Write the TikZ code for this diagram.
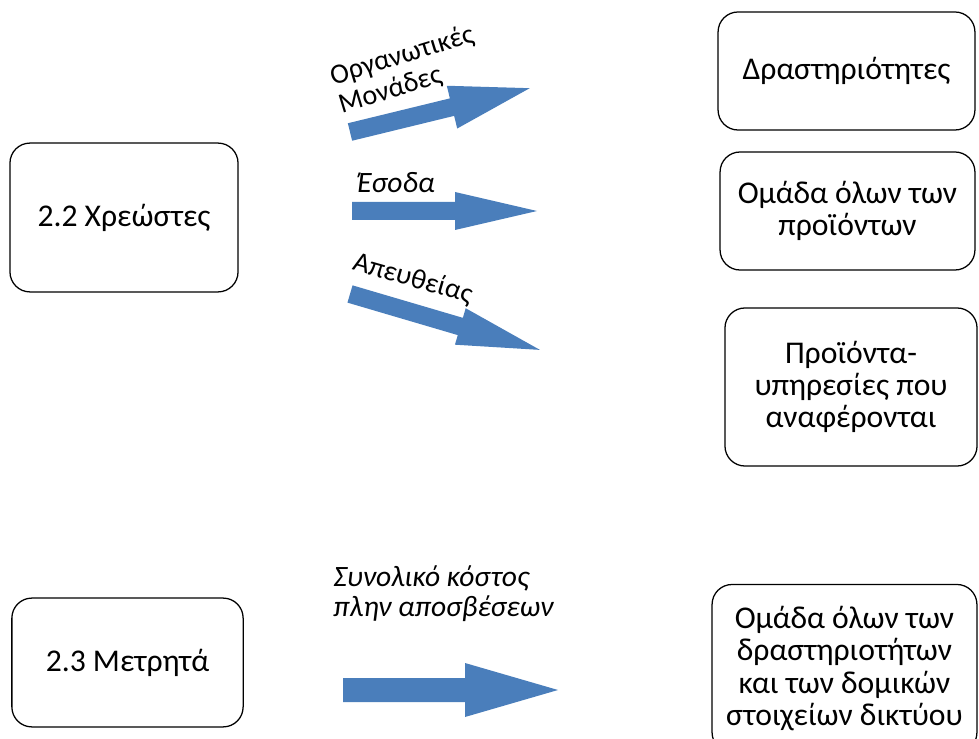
\documentclass[tikz,border=0pt]{standalone}
\usepackage{fontspec}
\setmainfont{Carlito}
\usepackage{tikz}
\usepackage{xcolor}
\usetikzlibrary{calc}
\usetikzlibrary{positioning}

\definecolor{arrowblue}{RGB}{74,126,187}

\begin{document}
\begin{tikzpicture}[x=0.025cm,y=0.025cm,
  box/.style={draw, line width=0.9pt, rounded corners=0.5cm, align=center,
    inner sep=2pt, font=\fontsize{22.5}{23}\selectfont},
  lbl/.style={align=left, inner sep=0pt, font=\fontsize{20}{21}\selectfont},
  ]
\useasboundingbox (0,0) rectangle (979,738);

% left side
\node[box, minimum width=5.7cm, minimum height=3.72cm] (xreostes) at (124,520.5) {2.2 Χρεώστες};
\node[box, minimum width=5.78cm, minimum height=3.22cm] (metrita) at (127.5,75.5) {2.3 Μετρητά};

% right side
\node[box, minimum width=6.42cm, minimum height=2.95cm] (drast) at (846.5,667) {Δραστηριότητες};
\node[box, minimum width=6.37cm, minimum height=2.95cm] (proionta) at (847.5,527) {Ομάδα όλων των\\προϊόντων};
\node[box, minimum width=6.3cm, minimum height=3.95cm] (ypiresies) at (851,351) {Προϊόντα-\\υπηρεσίες που\\αναφέρονται};
\node[box, minimum width=6.62cm, minimum height=4.2cm] (diktyo) at (844.5,69.5) {Ομάδα όλων των\\δραστηριοτήτων\\και των δομικών\\στοιχείων δικτύου};

% block arrows
\begin{scope}[shift={(350,606)}, rotate=13.7]
\fill[arrowblue] (0,-9) -- (105,-9) -- (105,-22) -- (185,0) -- (105,22) -- (105,9) -- (0,9) -- cycle;
\end{scope}
\begin{scope}[shift={(352,527)}]
\fill[arrowblue] (0,-9) -- (103,-9) -- (103,-19) -- (185,0) -- (103,19) -- (103,9) -- (0,9) -- cycle;
\end{scope}
\begin{scope}[shift={(350,444)}, rotate=-16.4]
\fill[arrowblue] (0,-9) -- (115,-9) -- (115,-19) -- (198,0) -- (115,19) -- (115,9) -- (0,9) -- cycle;
\end{scope}
\begin{scope}[shift={(343,48)}]
\fill[arrowblue] (0,-12) -- (122,-12) -- (122,-27) -- (215,0) -- (122,27) -- (122,12) -- (0,12) -- cycle;
\end{scope}

% arrow labels
\node[lbl, rotate=17, anchor=south west] (organ) at (343,620) {Οργανωτικές\\ Μονάδες};
\node[lbl, anchor=south west, font=\fontsize{21}{22}\selectfont\itshape] (esoda) at (357,545) {Έσοδα};
\node[lbl, rotate=-16, anchor=south west] (apeuth) at (350,464) {Απευθείας};
\node[lbl, anchor=south west, font=\fontsize{21}{21.5}\selectfont\itshape] (kostos) at (333,116) {Συνολικό κόστος\\πλην αποσβέσεων};

\end{tikzpicture}
\end{document}
